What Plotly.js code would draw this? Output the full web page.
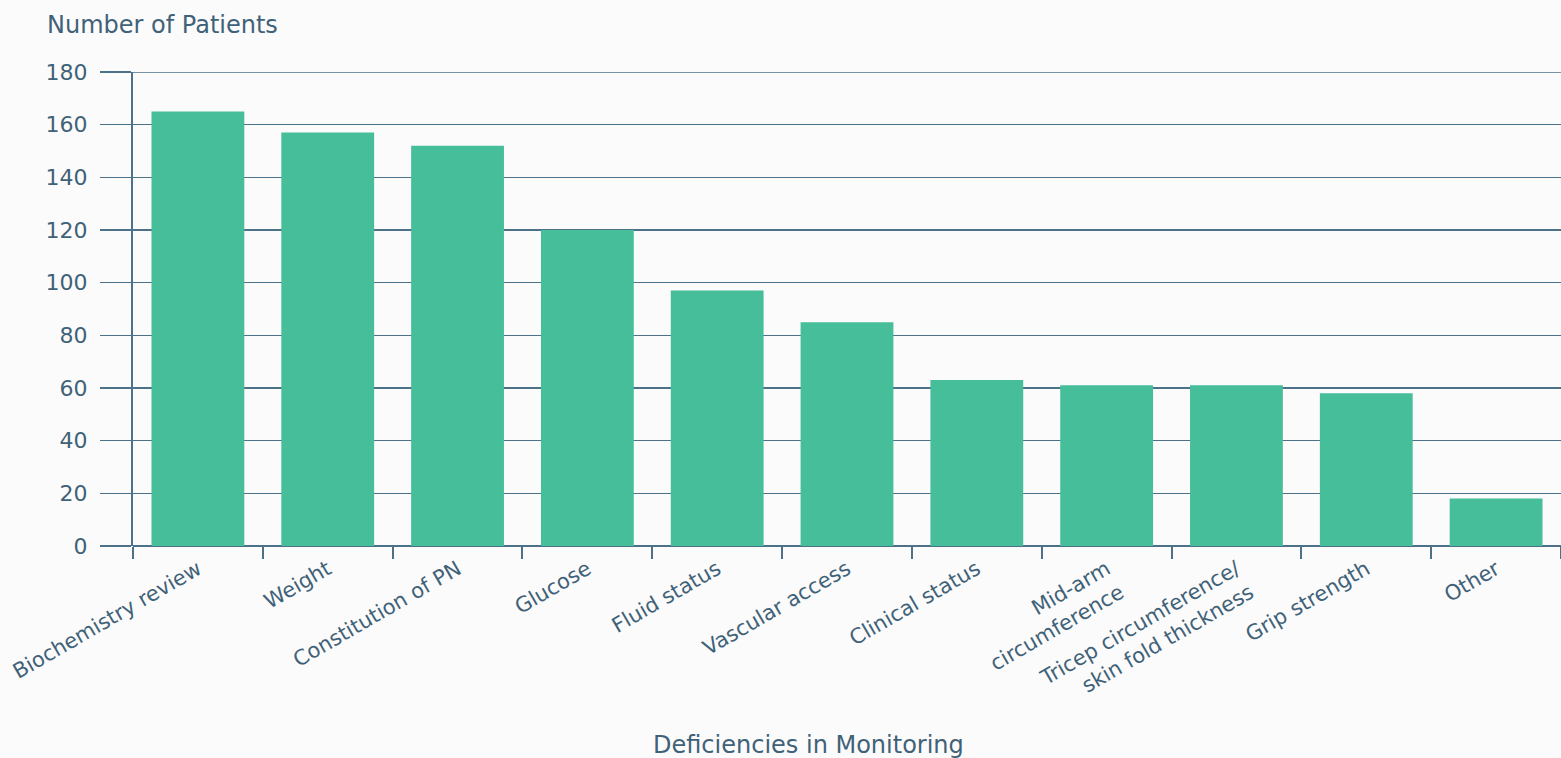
<!DOCTYPE html>
<html>
<head>
<meta charset="utf-8">
<script src="https://cdn.plot.ly/plotly-3.0.1.min.js"></script>
<style>html,body{margin:0;padding:0;background:#fcfbfb;}#chart{width:1561px;height:758px;}</style>
</head>
<body>
<div id="chart"></div>
<script>
const categories = [
  "Biochemistry review",
  "Weight",
  "Constitution of PN",
  "Glucose",
  "Fluid status",
  "Vascular access",
  "Clinical status",
  "Mid-arm<br>circumference",
  "Tricep circumference/<br>skin fold thickness",
  "Grip strength",
  "Other"
];
const patients = [165, 157, 152, 120, 97, 85, 63, 61, 61, 58, 18];
const yTicks = [0, 20, 40, 60, 80, 100, 120, 140, 160, 180];

const textColor = "#3f6278";
const lineColor = "#4d7189";
const W = 1561, H = 758, L = 133, R = 0, T = 72, B = 212;
const pw = W - L - R, ph = H - T - B;
const fam = "DejaVu Sans, Liberation Sans, Arial, sans-serif";

Plotly.newPlot("chart", [{
  type: "bar",
  x: categories,
  y: patients,
  marker: {color: "#46be9a"},
  hoverinfo: "x+y"
}], {
  width: W, height: H,
  margin: {l: L, r: R, t: T, b: B, pad: 0},
  paper_bgcolor: "#fcfbfb",
  plot_bgcolor: "#fcfbfb",
  bargap: 0.285,
  font: {family: fam, color: textColor, size: 20},
  showlegend: false,
  xaxis: {
    type: "category",
    tickangle: -30,
    ticks: "outside",
    tickson: "boundaries",
    ticklen: 12,
    tickwidth: 2,
    tickcolor: lineColor,
    ticklabelstandoff: 6,
    showline: false,
    showgrid: false,
    tickfont: {family: fam, size: 21, color: textColor},
    automargin: false
  },
  yaxis: {
    range: [0, 180],
    tickvals: yTicks,
    ticktext: yTicks.map(String),
    ticks: "outside",
    ticklen: 31,
    tickwidth: 1.5,
    tickcolor: lineColor,
    ticklabelstandoff: 8,
    showgrid: true,
    gridcolor: lineColor,
    gridwidth: 1.5,
    showline: true,
    linecolor: lineColor,
    linewidth: 2,
    zeroline: true,
    zerolinecolor: lineColor,
    zerolinewidth: 2,
    tickfont: {family: fam, size: 22, color: textColor},
    automargin: false
  },
  shapes: [{
    type: "line", layer: "below",
    xref: "paper", yref: "y",
    x0: 0, x1: 1, y0: yTicks[yTicks.length - 1], y1: yTicks[yTicks.length - 1],
    line: {color: lineColor, width: 1.5}
  }],
  annotations: [
    {
      text: "Number of Patients",
      xref: "paper", yref: "paper",
      x: (45 - L) / pw, y: 1 + (T - 25) / ph,
      xanchor: "left", yanchor: "middle",
      showarrow: false,
      font: {family: fam, size: 24, color: textColor}
    },
    {
      text: "Deficiencies in Monitoring",
      xref: "paper", yref: "paper",
      x: (808 - L) / pw, y: -(745 - (T + ph)) / ph,
      xanchor: "center", yanchor: "middle",
      showarrow: false,
      font: {family: fam, size: 24, color: textColor}
    }
  ]
}, {displayModeBar: false, staticPlot: true});
</script>
</body>
</html>
